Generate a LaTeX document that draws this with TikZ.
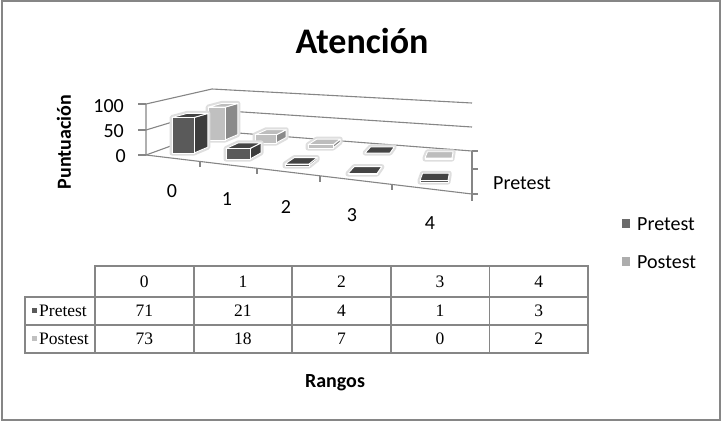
\documentclass[tikz,border=0pt]{standalone}
\usepackage{fontspec}
\setmainfont{Carlito}
\newfontfamily\tablefont{Liberation Serif}
\usetikzlibrary{calc}

\definecolor{axisgray}{HTML}{868686}
\definecolor{prefront}{HTML}{5A5A5A}
\definecolor{preside}{HTML}{3C3C3C}
\definecolor{pretop}{HTML}{444444}
\definecolor{postfront}{HTML}{C0C0C0}
\definecolor{postside}{HTML}{8A8A8A}
\definecolor{posttop}{HTML}{BDBDBD}

\tikzset{
  frame/.style={draw=axisgray, line width=2pt},
  wall/.style={draw=axisgray, line width=1.1pt},
  cellline/.style={draw=axisgray, line width=1.8pt},
  halo/.style={draw=black!13, line width=5pt, line join=round},
  face/.style={draw=white, line width=0.9pt, line join=round},
  lbl/.style={font=\fontsize{20}{24}\selectfont, inner sep=0pt},
  cell/.style={font=\tablefont\fontsize{17.5}{20}\selectfont, inner sep=0pt},
}

\begin{document}
\begin{tikzpicture}[x=1pt,y=-1pt]
    \useasboundingbox (0,0) rectangle (722,421);
    \draw[frame] (2,1) rectangle (720,420);

    % Title
    \node[font=\bfseries\fontsize{36}{40}\selectfont, anchor=base] (title) at (362,53) {Atención};

    % Walls and floor
    \coordinate (vp) at (472,36);
    \draw[wall] (146,104) -- (212,89) -- (472,103);
    \draw[wall] (146,130) -- (212,110) -- (472,127);
    \draw[wall] (146,155) -- (212,131) -- (472,151);
    \draw[wall] (146,104) -- (146,155) -- (472,194);
    \draw[wall] (472,151) -- (472,201);
    \foreach \y in {104,130,155} \draw[wall] (138,\y) -- (146,\y);
    \foreach \y in {151,169,194} \draw[wall] (472,\y) -- (478,\y);
    \foreach \x in {200,257,320,392} \draw[wall] (\x,{155+(\x-146)*0.1196}) -- ++(0,6);

    % Axis labels
    \node[lbl, anchor=east] (v100) at (124,106) {100};
    \node[lbl, anchor=east] (v50) at (124,131) {50};
    \node[lbl, anchor=east] (v0) at (126,156) {0};
    \node[lbl, font=\bfseries\fontsize{20}{24}\selectfont, rotate=90] (ylab) at (64,142) {Puntuación};
    \foreach \x/\y/\c in {172/191/0, 227/199/1, 286/207/2, 352/215/3, 430/223/4}
        \node[lbl] (cat\c) at (\x,\y) {\c};
    \node[lbl, anchor=west] (depth) at (493,183) {Pretest};

    % Postest bars (back row)
    \foreach \xl/\xr/\yb/\val in {208/225/140/73, 255/276/143/18, 308/333/148/7, 365/390/153/0, 425/452/159/2} {
        \pgfmathsetmacro\yt{\yb-0.45*\val}
        \coordinate (a) at (\xl,\yb);
        \coordinate (b) at (\xr,\yb);
        \coordinate (c) at (\xr,\yt);
        \coordinate (d) at (\xl,\yt);
        \coordinate (b2) at ($(b)!0.052!(vp)$);
        \coordinate (c2) at ($(c)!0.052!(vp)$);
        \coordinate (d2) at ($(d)!0.052!(vp)$);
        \draw[halo] (a) -- (b) -- (b2) -- (c2) -- (d2) -- (d) -- cycle;
        \filldraw[face, fill=postside] (b) -- (b2) -- (c2) -- (c) -- cycle;
        \ifnum\val=0
            \filldraw[face, fill=pretop] (d) -- (c) -- (c2) -- (d2) -- cycle;
        \else
            \filldraw[face, fill=posttop] (d) -- (c) -- (c2) -- (d2) -- cycle;
        \fi
        \filldraw[face, fill=postfront] (a) rectangle (c);
    }

    % Pretest bars (front row)
    \foreach \xl/\xr/\yb/\val in {172/194/153/71, 226/250/159/21, 285/309/166/4, 348/377/174/1, 420/448/182/3} {
        \pgfmathsetmacro\yt{\yb-0.5*\val}
        \coordinate (a) at (\xl,\yb);
        \coordinate (b) at (\xr,\yb);
        \coordinate (c) at (\xr,\yt);
        \coordinate (d) at (\xl,\yt);
        \coordinate (b2) at ($(b)!0.05!(vp)$);
        \coordinate (c2) at ($(c)!0.05!(vp)$);
        \coordinate (d2) at ($(d)!0.05!(vp)$);
        \draw[halo] (a) -- (b) -- (b2) -- (c2) -- (d2) -- (d) -- cycle;
        \filldraw[face, fill=preside] (b) -- (b2) -- (c2) -- (c) -- cycle;
        \filldraw[face, fill=pretop] (d) -- (c) -- (c2) -- (d2) -- cycle;
        \filldraw[face, fill=prefront] (a) rectangle (c);
    }

    % Legend
    \fill[prefront!90!white] (622,219) rectangle (630,228);
    \node[lbl, anchor=west] (legpre) at (637,224) {Pretest};
    \fill[postfront!90!black] (622,257) rectangle (630,266);
    \node[lbl, anchor=west] (legpost) at (637,262) {Postest};

    % Data table
    \draw[cellline] (95,266) rectangle (588,353);
    \draw[cellline] (25,297) rectangle (95,353);
    \draw[cellline] (25,297) -- (588,297);
    \draw[cellline] (25,325) -- (588,325);
    \foreach \c/\a/\b in {0/71/73, 1/21/18, 2/4/7, 3/1/0, 4/3/2} {
        \draw[cellline] ({95+98.6*\c},266) -- ({95+98.6*\c},353);
        \node[cell] (h\c) at ({144.3+98.6*\c},282) {\c};
        \node[cell] (pre\c) at ({144.3+98.6*\c},311) {\a};
        \node[cell] (post\c) at ({144.3+98.6*\c},339) {\b};
    }
    \fill[prefront] (32,308) rectangle (37,313);
    \node[cell, anchor=west] (rowpre) at (39,311) {Pretest};
    \fill[postfront] (32,336) rectangle (37,341);
    \node[cell, anchor=west] (rowpost) at (39,339) {Postest};

    % Axis title
    \node[lbl, font=\bfseries\fontsize{20}{24}\selectfont] (xlab) at (335,383) {Rangos};
\end{tikzpicture}
\end{document}
